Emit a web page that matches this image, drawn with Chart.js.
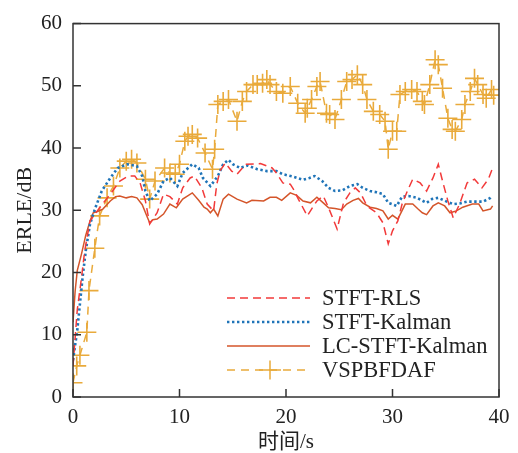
<!DOCTYPE html>
<html>
<head>
<meta charset="utf-8">
<script src="https://cdn.jsdelivr.net/npm/chart.js@4.4.1/dist/chart.umd.min.js"></script>
<style>
  body { margin: 0; background: #fff; }
</style>
</head>
<body>
<canvas id="chart" width="518" height="453"></canvas>
<script>
// ERLE curves (time in s, ERLE in dB)
const seriesNames = ['STFT-RLS', 'STFT-Kalman', 'LC-STFT-Kalman', 'VSPBFDAF'];

const rlsTime = [0, 0.4, 0.8, 1.1, 1.6, 2.5, 3.5, 4.4, 5.2, 5.8, 6.3, 6.8, 7.2, 7.9, 8.5, 9.1, 9.8, 10.3, 11.0, 11.4,
  12.1, 12.6, 13.2, 13.5, 13.8, 14.3, 14.9, 15.4, 16.2, 17.6, 18.7, 19.1, 19.7, 20.4, 20.8, 21.1, 22.0, 22.4, 22.9, 23.5,
  24.0, 24.8, 25.4, 26.0, 26.5, 27.0, 27.6, 28.5, 29.1, 29.6, 30.0, 30.5, 30.9, 31.4, 31.9, 32.6, 33.2, 33.8, 34.3, 34.7,
  35.2, 35.7, 36.3, 37.0, 37.7, 38.4, 39.0, 39.4];
const rlsErle = [5, 14, 19.2, 23.5, 28.3, 30.4, 32.6, 34.7, 35.5, 35.5, 34.4, 31.5, 27.8, 29.6, 32.6, 32.2, 31.0, 33.6, 35.2, 35.5,
  33.6, 31.0, 29.9, 34.2, 36.3, 37.6, 36.3, 35.8, 37.4, 37.5, 36.8, 36.0, 34.4, 34.2, 33.1, 32.0, 29.1, 30.2, 31.5, 32.3,
  30.4, 27.0, 31.2, 32.8, 33.6, 32.8, 30.7, 29.6, 28.0, 24.6, 26.7, 28.3, 31.0, 33.1, 35.0, 34.4, 33.1, 35.2, 37.4, 34.7,
  31.5, 28.8, 31.0, 34.4, 35.0, 33.6, 35.0, 36.8];

const kalmanTime = [0, 0.4, 0.9, 1.2, 1.6, 2.1, 2.7, 3.5, 4.2, 5.1, 6.0, 6.5, 6.8, 7.2, 7.9, 8.5, 9.1, 9.8, 10.3, 11.2,
  11.8, 12.2, 12.9, 13.6, 14.1, 14.6, 15.0, 15.7, 16.4, 17.3, 18.2, 19.1, 19.7, 20.7, 21.6, 22.2, 22.7, 23.4, 24.0, 24.6,
  25.3, 26.0, 26.7, 27.2, 27.9, 28.5, 29.1, 29.6, 30.4, 30.9, 31.5, 32.3, 33.2, 33.7, 34.3, 35.1, 35.7, 36.3, 37.0, 37.8,
  38.5, 39.2, 39.4];
const kalmanErle = [5.9, 10.7, 19.2, 23.5, 27.8, 30.4, 33.1, 35.2, 36.8, 37.4, 37.1, 35.5, 33.1, 31.5, 32.6, 34.7, 35.2, 33.9, 36.0, 37.4,
  36.8, 35.2, 33.9, 35.5, 37.4, 38.1, 37.4, 36.8, 37.2, 36.6, 36.3, 36.3, 35.8, 35.4, 34.9, 35.2, 35.5, 34.7, 33.6, 33.1,
  33.2, 33.9, 34.2, 33.6, 33.1, 32.9, 32.6, 31.2, 30.7, 32.2, 32.3, 32.0, 31.2, 31.8, 32.0, 31.4, 31.0, 31.1, 31.4, 31.4,
  31.4, 32.0, 32.3];

const lcTime = [0, 0.2, 0.4, 0.8, 1.2, 1.6, 1.9, 2.3, 2.8, 3.5, 4.0, 4.4, 5.0, 5.5, 6.0, 6.5, 7.0, 7.2, 7.5, 7.9,
  8.5, 9.1, 9.7, 10.3, 11.2, 11.8, 12.3, 12.6, 12.9, 13.2, 13.6, 14.1, 14.6, 15.4, 16.3, 16.8, 17.9, 18.5, 19.1, 19.6,
  20.4, 21.0, 21.6, 22.3, 22.9, 23.5, 24.0, 24.6, 25.2, 25.7, 26.3, 26.8, 27.2, 27.9, 28.5, 29.1, 29.6, 30.0, 30.5, 31.2,
  31.9, 32.4, 32.8, 33.2, 33.8, 34.3, 34.9, 35.4, 36.0, 36.6, 37.5, 38.1, 38.5, 39.2, 39.4];
const lcErle = [12, 17, 20.3, 23, 26, 28.3, 29.6, 29.8, 30.2, 31.5, 32.2, 32.3, 32.0, 32.2, 32.0, 30.9, 28.8, 28.0, 28.5, 28.6,
  29.4, 31.0, 30.4, 31.8, 32.8, 31.6, 30.5, 30.2, 29.6, 30.2, 29.1, 31.8, 32.6, 31.8, 31.2, 31.6, 31.5, 32.1, 32.1, 31.6,
  32.8, 32.4, 31.5, 31.2, 32.1, 31.2, 30.4, 30.3, 30.1, 31.0, 31.6, 31.9, 31.2, 30.5, 30.3, 29.9, 28.6, 29.2, 28.6, 31.0,
  31.0, 30.2, 29.6, 29.3, 30.7, 31.2, 30.7, 29.6, 29.9, 30.5, 31.0, 31.0, 29.9, 30.2, 30.7];

const vspTime = [0, 0.35, 0.65, 1.3, 1.5, 2.05, 2.5, 3.2, 3.8, 4.4, 5.0, 5.5, 6.0, 6.8, 7.2, 7.7, 8.6, 9.1, 9.6, 10.0,
  10.5, 10.8, 11.2, 11.7, 12.4, 13.1, 13.3, 13.6, 14.1, 14.6, 15.4, 15.9, 16.3, 16.9, 17.3, 17.8, 18.2, 18.5, 19.1, 19.7,
  20.4, 21.1, 21.8, 22.0, 22.4, 22.9, 23.2, 23.8, 24.1, 24.6, 25.2, 25.7, 26.2, 26.7, 27.2, 27.6, 28.2, 28.8, 29.3, 29.6,
  30.0, 30.4, 30.7, 31.2, 31.8, 32.3, 32.8, 33.0, 33.5, 34.0, 34.3, 34.7, 35.2, 35.6, 35.9, 36.5, 36.8, 37.3, 37.7, 38.0,
  38.5, 38.8, 39.3, 39.5];
const vspErle = [2.3, 5, 6.7, 10.4, 17.1, 23.9, 29.1, 32, 33.9, 36.8, 37.9, 38.2, 37.6, 35, 31.8, 34.7, 36.8, 36, 35.8, 37.4,
  41.1, 41.9, 42.2, 41.6, 39.2, 36.6, 39.8, 47, 47.5, 47.8, 44.3, 47.5, 49.1, 50.2, 50.2, 50.4, 51, 50.2, 49.1, 48.8,
  49.9, 47.2, 45.6, 46.4, 47.8, 49.9, 50.7, 45.6, 45.4, 44.6, 47.8, 50.7, 51, 51.8, 50.2, 47.8, 45.9, 45.4, 44.3, 39.8,
  42.7, 42.7, 48.6, 49.1, 49.4, 49.1, 47.5, 47, 50.2, 54.2, 53.4, 49.6, 44.8, 43, 42.7, 44.6, 47, 49.1, 51.2, 50.2,
  48.6, 48, 49.4, 48.5];

const xTicks = [0, 10, 20, 30, 40];
const yTicks = [0, 10, 20, 30, 40, 50, 60];

const serif = '"Liberation Serif", "Noto Sans CJK SC", serif';

function pairs(t, v) {
  return t.map((x, i) => ({ x: x, y: v[i] }));
}

// box, inward ticks and the legend inside the plot
const framePlugin = {
  id: 'frame',
  afterDatasetsDraw(chart) {
    const { ctx, chartArea: a, scales } = chart;
    ctx.save();
    ctx.setLineDash([]);
    ctx.strokeStyle = '#333';
    ctx.lineWidth = 1.5;
    ctx.strokeRect(a.left, a.top, a.right - a.left, a.bottom - a.top);
    ctx.beginPath();
    xTicks.forEach(v => {
      const px = scales.x.getPixelForValue(v);
      ctx.moveTo(px, a.bottom);
      ctx.lineTo(px, a.bottom - 8);
    });
    yTicks.forEach(v => {
      const py = scales.y.getPixelForValue(v);
      ctx.moveTo(a.left, py);
      ctx.lineTo(a.left + 8, py);
    });
    ctx.stroke();

    // legend
    ctx.font = '22.5px ' + serif;
    ctx.textBaseline = 'middle';
    ctx.fillStyle = '#222';
    chart.data.datasets.forEach((ds, i) => {
      const y = 298 + 24 * i;
      ctx.strokeStyle = ds.borderColor;
      ctx.lineWidth = ds.borderWidth;
      ctx.setLineDash(ds.borderDash || []);
      ctx.beginPath();
      ctx.moveTo(227, y);
      ctx.lineTo(310, y);
      ctx.stroke();
      if (ds.pointStyle === 'cross') {
        ctx.setLineDash([]);
        ctx.lineWidth = 1.5;
        ctx.beginPath();
        ctx.moveTo(270 - 11, y);
        ctx.lineTo(270 + 11, y);
        ctx.moveTo(270, y - 9.5);
        ctx.lineTo(270, y + 9.5);
        ctx.stroke();
      }
      ctx.fillText(ds.label, 322, y + 1);
    });
    ctx.restore();
  }
};

new Chart(document.getElementById('chart'), {
  type: 'line',
  data: {
    datasets: [
      {
        label: seriesNames[0],
        data: pairs(rlsTime, rlsErle),
        borderColor: '#f23a3a',
        borderWidth: 1.5,
        borderDash: [8, 5],
        pointRadius: 0,
        tension: 0
      },
      {
        label: seriesNames[1],
        data: pairs(kalmanTime, kalmanErle),
        borderColor: '#1f74b8',
        borderWidth: 2.6,
        borderDash: [2.4, 2.6],
        pointRadius: 0,
        tension: 0
      },
      {
        label: seriesNames[2],
        data: pairs(lcTime, lcErle),
        borderColor: '#d4552a',
        borderWidth: 1.5,
        pointRadius: 0,
        tension: 0
      },
      {
        label: seriesNames[3],
        data: pairs(vspTime, vspErle),
        borderColor: '#e9aa3b',
        borderWidth: 1.5,
        borderDash: [8, 6],
        pointStyle: 'cross',
        pointRadius: 9.5,
        pointBorderWidth: 1.6,
        pointBorderColor: '#e9aa3b',
        tension: 0
      }
    ]
  },
  options: {
    responsive: false,
    animation: false,
    layout: { padding: { left: 0, right: 19, top: 22, bottom: 0 } },
    plugins: {
      legend: { display: false },
      tooltip: { enabled: false }
    },
    scales: {
      x: {
        type: 'linear',
        min: 0,
        max: 40,
        afterBuildTicks: s => { s.ticks = xTicks.map(v => ({ value: v })); },
        afterFit: s => { s.height = 56; },
        grid: { display: false, drawTicks: false },
        border: { display: false },
        ticks: { color: '#222', font: { family: serif, size: 21 }, padding: 8, maxRotation: 0 },
        title: {
          display: true,
          text: '时间/s',
          color: '#222',
          font: { family: serif, size: 21, lineHeight: 1 },
          padding: { top: 0, bottom: 0 }
        }
      },
      y: {
        min: 0,
        max: 60,
        afterBuildTicks: s => { s.ticks = yTicks.map(v => ({ value: v })); },
        afterFit: s => { s.width = 73; },
        grid: { display: false, drawTicks: false },
        border: { display: false },
        ticks: { color: '#222', font: { family: serif, size: 21 }, padding: 11 },
        title: {
          display: true,
          text: 'ERLE/dB',
          color: '#222',
          font: { family: serif, size: 22, lineHeight: 1.2 },
          padding: { top: 12, bottom: 0 }
        }
      }
    }
  },
  plugins: [framePlugin]
});
</script>
</body>
</html>
